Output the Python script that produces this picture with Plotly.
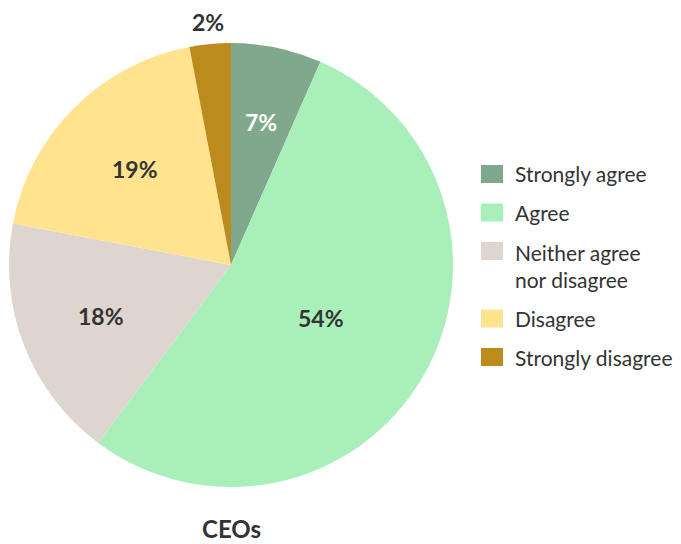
import math
import plotly.graph_objects as go

categories = ["Strongly agree", "Agree", "Neither agree<br>nor disagree", "Disagree", "Strongly disagree"]
values = [6.6, 53.6, 17.8, 19.0, 3.0]
value_labels = ["7%", "54%", "18%", "19%", "2%"]
colors = ["#80a88d", "#a8efba", "#ded5ce", "#ffe38f", "#bd8b1d"]
text_colors = ["#ffffff", "#333333", "#333333", "#333333", "#333333"]
label_radius = [0.66, 0.47, 0.63, 0.61, 1.10]   # label distance from centre, in pie radii
title_text = "CEOs"

OFF = 8                      # body margin of the html page
W, H = 681 - OFF, 544 - OFF
cx, cy, r = 231 - OFF, 265 - OFF, 222
FONT = "Lato"
DARK = "#333333"

fig = go.Figure(go.Pie(
    labels=categories,
    values=values,
    text=value_labels,
    textinfo="none",
    marker=dict(colors=colors, line=dict(width=0)),
    sort=False,
    direction="clockwise",
    rotation=0,
    showlegend=False,
    hoverinfo="label+text",
    domain=dict(x=[(cx - r) / W, (cx + r) / W], y=[1 - (cy + r) / H, 1 - (cy - r) / H]),
))

annotations = []
shapes = []

# percentage labels at each slice's mid angle
total = sum(values)
cum = 0.0
for v, lab, tc, rf in zip(values, value_labels, text_colors, label_radius):
    mid = (cum + v / 2) / total * 2 * math.pi
    cum += v
    px = cx + rf * r * math.sin(mid)
    py = cy - rf * r * math.cos(mid)
    annotations.append(dict(
        text="<b>" + lab + "</b>", x=px / W, y=1 - py / H, xref="paper", yref="paper",
        xanchor="center", yanchor="middle", showarrow=False,
        font=dict(family=FONT, size=23, color=tc),
    ))

# legend
leg_x0 = 481 - OFF
sw_w, sw_h = 22, 18
text_x = 513 - OFF
line_h = 29
item_gap = 38.5
y = 174 - OFF
for cat, col in zip(categories, colors):
    lines = cat.count("<br>") + 1
    shapes.append(dict(
        type="rect", xref="paper", yref="paper",
        x0=leg_x0 / W, x1=(leg_x0 + sw_w) / W,
        y0=1 - (y - sw_h / 2) / H, y1=1 - (y + sw_h / 2) / H,
        fillcolor=col, line=dict(width=0),
    ))
    yc = y + (lines - 1) * line_h / 2
    annotations.append(dict(
        text=cat, x=text_x / W, y=1 - yc / H, xref="paper", yref="paper",
        xanchor="left", yanchor="middle", align="left", showarrow=False,
        font=dict(family=FONT, size=21, color=DARK),
    ))
    y += item_gap + (lines - 1) * line_h

annotations.append(dict(
    text="<b>" + title_text + "</b>",
    x=cx / W, y=1 - (528 - OFF) / H, xref="paper", yref="paper",
    xanchor="center", yanchor="middle", showarrow=False,
    font=dict(family=FONT, size=24, color=DARK),
))

fig.update_layout(
    width=W, height=H,
    margin=dict(l=0, r=0, t=0, b=0),
    paper_bgcolor="white",
    plot_bgcolor="white",
    font=dict(family=FONT, color=DARK),
    showlegend=False,
    annotations=annotations,
    shapes=shapes,
)

fig.write_html("out.html")
